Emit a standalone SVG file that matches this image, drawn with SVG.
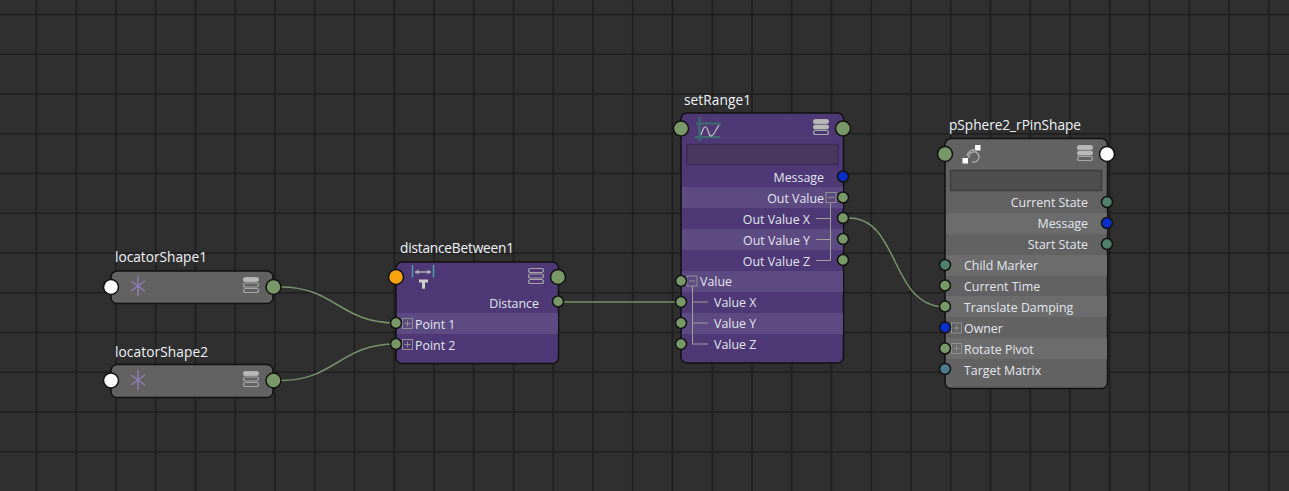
<svg xmlns="http://www.w3.org/2000/svg" width="1289" height="491" viewBox="0 0 1289 491">
<style>
text{font-family:"Open Sans","Noto Sans","Liberation Sans",sans-serif;font-size:12.4px;fill:#e2e6ee}
.t{font-size:13.7px;fill:#f0f4fa}
.r{text-anchor:end}
.g{stroke:#1f1f1f;stroke-width:1.600;fill:none}
.gb{fill:#626262;stroke:#111;stroke-width:1.500}
.pb{fill:#4e3976;stroke:#111;stroke-width:1.500}
.gl{fill:#6c6c6c}
.pl{fill:#5e4a82}
.fg{fill:#4e4e4e;stroke:#3e3e3e;stroke-width:1.500}
.fp{fill:#483860;stroke:#3b2d55;stroke-width:1.500}
.p{stroke:#111;stroke-width:1.500}
.gr{fill:#789868}
.te{fill:#52806f}
.bl{fill:#0a2fc8}
.w{fill:#fff}
.or{fill:#f7a30f}
.sb{fill:#4f7a8c}
.c{fill:none;stroke:#76926a;stroke-width:1.500}
.tree{fill:none;stroke:#a0a09a;stroke-width:1}
.box{fill:none;stroke:#8f8f8f;stroke-width:1}
.ic{fill:none;stroke:#a6a6a6;stroke-width:1.200}
.s1{fill:#b8b8b8;stroke:none}
</style>
<defs>
<g id="stack"><rect x="-7.500" y="-7.500" width="15" height="4" rx="2"/><rect x="-7.500" y="-2" width="15" height="4" rx="2"/><rect x="-7.500" y="3.500" width="15" height="4" rx="2"/></g>
<g id="plus"><rect x="-5" y="-5" width="10" height="10" class="box"/><path d="M-3 0H3M0-3V3" class="box"/></g>
<g id="minus"><rect x="-5" y="-5" width="10" height="10" class="box"/><path d="M-3 0H3" class="box"/></g>
<g id="star"><path d="M0-10V10M-7-5L7 5M-7 5L7-5" fill="none" stroke="#8d7fb5" stroke-width="1.500"/></g>
</defs>
<rect width="1289" height="491" fill="#2f2f2f"/>
<g id="grid" class="g">
<path d="M36.500 0V491M76.250 0V491M116 0V491M155.750 0V491M195.500 0V491M235.250 0V491M275 0V491M314.750 0V491M354.500 0V491M394.250 0V491M434 0V491M473.750 0V491M513.500 0V491M553.250 0V491M593 0V491M632.750 0V491M672.500 0V491M712.250 0V491M752 0V491M791.750 0V491M831.500 0V491M871.250 0V491M911 0V491M950.750 0V491M990.500 0V491M1030.250 0V491M1070 0V491M1109.750 0V491M1149.500 0V491M1189.250 0V491M1229 0V491M1268.750 0V491"/>
<path d="M0 14.500H1289M0 54.250H1289M0 94H1289M0 133.750H1289M0 173.500H1289M0 213.250H1289M0 253H1289M0 292.750H1289M0 332.500H1289M0 372.250H1289M0 412H1289M0 451.750H1289"/>
</g>
<g id="connectors">
<path class="c" d="M281 287C335 287 340 323 396 323"/>
<path class="c" d="M281 380.500C335 380.500 340 344 396 344"/>
<path class="c" d="M564 302H681"/>
<path class="c" d="M849 218C900 218 890 307 945 307"/>
</g>
<g id="locatorShape1">
<text class="t" x="115" y="262" textLength="92">locatorShape1</text>
<rect class="gb" x="111" y="271" width="162" height="32.500" rx="6"/>
<use href="#star" x="138" y="286"/>
<use href="#stack" x="251" y="285" class="ic"/>
<rect x="243.500" y="277.500" width="15" height="4" rx="2" class="s1"/>
<circle class="p w" cx="111" cy="287" r="7.500"/>
<circle class="p gr" cx="273.500" cy="287" r="7.500"/>
</g>
<g id="locatorShape2">
<text class="t" x="115" y="357" textLength="93">locatorShape2</text>
<rect class="gb" x="111" y="364.500" width="162" height="33" rx="6"/>
<use href="#star" x="138" y="380"/>
<use href="#stack" x="251" y="379" class="ic"/>
<rect x="243.500" y="371.500" width="15" height="4" rx="2" class="s1"/>
<circle class="p w" cx="111" cy="380.500" r="7.500"/>
<circle class="p gr" cx="273.500" cy="380.500" r="7.500"/>
</g>
<g id="distanceBetween1">
<text class="t" x="400" y="253" textLength="114">distanceBetween1</text>
<rect class="pb" x="396" y="262" width="162.500" height="101.500" rx="6"/>
<rect class="pl" x="397" y="313" width="161" height="21"/>
<path d="M412.500 265V277.500M433.500 265V277.500" stroke="#4f9aa5" stroke-width="1.500" fill="none"/>
<path d="M415 272H431" stroke="#b0b0b0" stroke-width="1.500" fill="none"/>
<path d="M415 272L418.500 269.500V274.500ZM431 272L427.500 269.500V274.500Z" fill="#b0b0b0"/>
<path d="M419 279.500H428V282.500H425V288.700H422V282.500H419Z" fill="#cfcfcf"/>
<use href="#stack" x="536" y="276" class="ic"/>
<text class="r" x="539" y="308">Distance</text>
<use href="#plus" x="407.500" y="323.500"/><text x="415" y="329">Point 1</text>
<use href="#plus" x="407.500" y="344.500"/><text x="415" y="350">Point 2</text>
<circle class="p or" cx="396" cy="277" r="7.500"/>
<circle class="p gr" cx="558" cy="277" r="7.500"/>
<circle class="p gr" cx="558" cy="301.500" r="5.500"/>
<circle class="p gr" cx="396" cy="323" r="5.500"/>
<circle class="p gr" cx="396" cy="344" r="5.500"/>
</g>
<g id="setRange1">
<text class="t" x="684" y="105" textLength="67">setRange1</text>
<rect class="pb" x="681" y="113" width="162.500" height="250" rx="6"/>
<rect class="pl" x="682" y="187" width="161" height="21"/>
<rect class="pl" x="682" y="229" width="161" height="21"/>
<rect class="pl" x="682" y="271" width="161" height="21"/>
<rect class="pl" x="682" y="313" width="161" height="21"/>
<rect class="fp" x="687" y="144.500" width="151" height="20"/>
<path d="M699.500 117V141M696 123.500H721M695 137H720" stroke="#3f6e72" stroke-width="2" fill="none"/>
<path d="M701 135C703 129 704 126 706 127C709 129 708 136 711 136C714 136 716 129 719 125" stroke="#b8b8b8" stroke-width="1.300" fill="none"/>
<use href="#stack" x="821" y="127" class="ic"/>
<rect x="813.500" y="119.500" width="15" height="4" rx="2" class="s1"/><rect x="813.500" y="125" width="15" height="4" rx="2" class="s1"/>
<text class="r" x="824" y="182">Message</text>
<text class="r" x="824" y="203">Out Value</text>
<text class="r" x="810" y="224">Out Value X</text>
<text class="r" x="810" y="245">Out Value Y</text>
<text class="r" x="810" y="266">Out Value Z</text>
<use href="#minus" x="831" y="197.500"/>
<path class="tree" d="M830.500 202.500V260.500H816M830.500 218.500H816M830.500 239.500H816"/>
<text x="700" y="286">Value</text>
<text x="714" y="307">Value X</text>
<text x="714" y="328">Value Y</text>
<text x="714" y="349">Value Z</text>
<use href="#minus" x="692" y="281"/>
<path class="tree" d="M692.500 286V344H708M692.500 302H708M692.500 323H708"/>
<circle class="p gr" cx="681" cy="128.500" r="7.500"/>
<circle class="p gr" cx="843" cy="128.500" r="7.500"/>
<circle class="p bl" cx="843" cy="176.500" r="5.500"/>
<circle class="p gr" cx="843" cy="197.500" r="5.500"/>
<circle class="p gr" cx="843" cy="218" r="5.500"/>
<circle class="p gr" cx="843" cy="239" r="5.500"/>
<circle class="p gr" cx="843" cy="260" r="5.500"/>
<circle class="p gr" cx="681" cy="281" r="5.500"/>
<circle class="p gr" cx="681" cy="302" r="5.500"/>
<circle class="p gr" cx="681" cy="323" r="5.500"/>
<circle class="p gr" cx="681" cy="344" r="5.500"/>
</g>
<g id="pSphere2_rPinShape">
<text class="t" x="949" y="130" textLength="132">pSphere2_rPinShape</text>
<rect class="gb" x="945" y="138.500" width="162.500" height="250" rx="6"/>
<rect class="gl" x="946" y="213" width="161" height="21"/>
<rect class="gl" x="946" y="255" width="161" height="21"/>
<rect class="gl" x="946" y="296" width="161" height="21"/>
<rect class="gl" x="946" y="338" width="161" height="21"/>
<rect class="fg" x="950.500" y="170.500" width="151" height="20"/>
<rect x="962.500" y="158" width="5.500" height="5.500" fill="#fff"/><rect x="975" y="145" width="5.500" height="5.500" fill="#fff"/>
<path d="M967 156C968 151 972 149 976 150M969 158C968 152 975 150 978 154C981 158 977 163 972 162" fill="none" stroke="#aaaaaa" stroke-width="1.400"/>
<use href="#stack" x="1085" y="153" class="ic"/>
<rect x="1077.500" y="145.500" width="15" height="4" rx="2" class="s1"/><rect x="1077.500" y="151" width="15" height="4" rx="2" class="s1"/>
<text class="r" x="1088" y="207">Current State</text>
<text class="r" x="1088" y="228">Message</text>
<text class="r" x="1088" y="249">Start State</text>
<text x="964" y="270">Child Marker</text>
<text x="964" y="291">Current Time</text>
<text x="964" y="312">Translate Damping</text>
<text x="964" y="333">Owner</text>
<text x="964" y="354">Rotate Pivot</text>
<text x="964" y="375">Target Matrix</text>
<use href="#plus" x="956.500" y="328"/>
<use href="#plus" x="956.500" y="348.500"/>
<circle class="p gr" cx="945" cy="154" r="7.500"/>
<circle class="p w" cx="1107" cy="154" r="7.500"/>
<circle class="p te" cx="1107" cy="202" r="5.500"/>
<circle class="p bl" cx="1107" cy="223" r="5.500"/>
<circle class="p te" cx="1107" cy="244" r="5.500"/>
<circle class="p te" cx="945" cy="265" r="5.500"/>
<circle class="p gr" cx="945" cy="285.500" r="5.500"/>
<circle class="p gr" cx="945" cy="306.500" r="5.500"/>
<circle class="p bl" cx="945" cy="327.500" r="5.500"/>
<circle class="p gr" cx="945" cy="348.500" r="5.500"/>
<circle class="p sb" cx="945" cy="369" r="5.500"/>
</g>
</svg>
